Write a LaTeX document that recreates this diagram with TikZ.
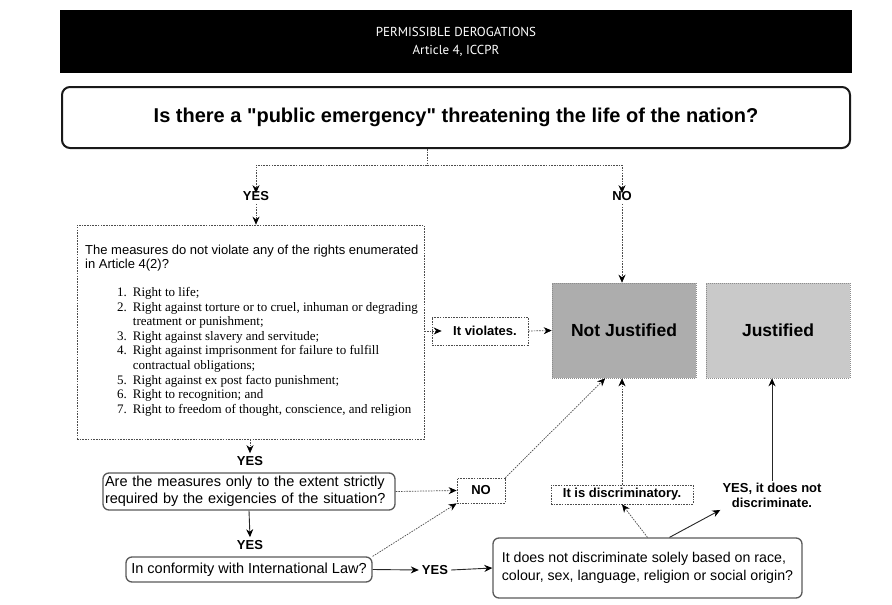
\documentclass[tikz,border=0pt]{standalone}
\usepackage{fontspec}
\setmainfont{Liberation Sans}[Ligatures=TeXOff]
\newfontfamily\serifl{Liberation Serif}
\newfontfamily\bannerfont{PT Sans}
\usetikzlibrary{arrows.meta,calc}
\tikzset{
  arrowtip/.style={-{Stealth[length=8pt,width=7pt,color=black]}},
  dline/.style={arrowtip, line width=0.7pt, draw=black!70, dash pattern=on 1.6pt off 1.1pt},
  sline/.style={arrowtip, line width=0.9pt, draw=black!85},
  dbox/.style={draw=black!70, line width=0.7pt, dash pattern=on 1.6pt off 1.1pt},
  rbox/.style={draw=black!65, line width=1.3pt, rounded corners=6pt, align=left, inner ysep=0pt,
    font=\fontsize{14.5}{17}\selectfont},
  lab/.style={font=\bfseries\fontsize{13}{15}\selectfont, inner sep=3pt, align=center},
  verdict/.style={draw=black!45, dash pattern=on 1pt off 1pt, line width=0.6pt,
    minimum width=144pt, minimum height=95pt, inner sep=0pt, font=\bfseries\fontsize{17.5}{20}\selectfont}
}
\begin{document}
\begin{tikzpicture}[x=1pt,y=-1pt]
\useasboundingbox (0,0) rectangle (892,605);
% banner
\node[fill=black, text=white, minimum width=792pt, minimum height=63pt, inner sep=0pt,
  align=center, font=\bannerfont\fontsize{13}{18}\selectfont] (banner) at (456,41.5)
  {PERMISSIBLE DEROGATIONS\\Article 4, ICCPR};
% main question
\node[draw=black!90, line width=2pt, rounded corners=8pt, minimum width=788pt, minimum height=61pt,
  inner sep=0pt, font=\bfseries\fontsize{20}{23}\selectfont] (q1) at (456,117.5)
  {Is there a "public emergency" threatening the life of the nation?};
\coordinate (stem) at (427,165);
\node[lab] (yes1) at (256,196) {YES};
\node[lab] (no1) at (622,196) {NO};
\draw[line width=0.7pt, draw=black!70, dash pattern=on 1.6pt off 1.1pt] (stem |- q1.south) -- (stem);
\draw[dline] (stem) -| ([yshift=-5pt]yes1.north);
\draw[dline] (stem) -| ([yshift=-5pt]no1.north);
% dashed rights box
\node[dbox, minimum width=347pt, minimum height=214pt, inner sep=0pt] (dbox) at (250.5,332) {};
\node[anchor=north west, inner sep=0pt, align=left, font=\fontsize{13}{14.6}\selectfont] (dhead) at (85,244.5)
  {The measures do not violate any of the rights enumerated\\in Article 4(2)?};
\node[anchor=north west, inner sep=0pt, font=\serifl\fontsize{13}{14.6}\selectfont] (dlist) at (85,286) {%
  \begin{tabular}{@{\hspace{32pt}}r@{\hspace{6pt}}l@{}}
  1. & Right to life;\\
  2. & Right against torture or to cruel, inhuman or degrading\\
     & treatment or punishment;\\
  3. & Right against slavery and servitude;\\
  4. & Right against imprisonment for failure to fulfill\\
     & contractual obligations;\\
  5. & Right against ex post facto punishment;\\
  6. & Right to recognition; and\\
  7. & Right to freedom of thought, conscience, and religion
  \end{tabular}};
\draw[dline] (yes1.south) -- (yes1.south |- dbox.north);
% it violates
\node[dbox, minimum width=96pt, minimum height=28pt, inner sep=0pt, font=\bfseries\fontsize{13}{15}\selectfont]
  (viol) at (480,331) {\hspace{10pt}It violates.};
% verdicts
\node[verdict, fill=black!32] (nj) at (624,330.5) {Not Justified};
\node[verdict, fill=black!21] (just) at (778,330.5) {Justified};
\draw[dline] (dbox.east |- viol) -- ([xshift=10pt]viol.west);
\draw[dline] (viol.east) -- (nj.west);
\draw[dline] (no1.south) -- (no1.south |- nj.north);
% lower chain
\node[lab] (yes2) at (250,461) {YES};
\draw[dline] (yes2.north |- dbox.south) -- (yes2.north);
\node[rbox, text width=288pt, inner xsep=2pt, minimum height=37pt] (q2) at (249,491.5)
  {Are the measures only to the extent strictly\\required by the exigencies of the situation?};
\node[lab] (yes3) at (250,545) {YES};
\draw[sline] (q2.south) -- (yes3.north);
\node[rbox, minimum width=246pt, minimum height=25pt, inner xsep=2pt] (q3) at (249,569.5)
  {In conformity with International Law?};
\node[dbox, minimum width=48pt, minimum height=25pt, inner sep=0pt, font=\bfseries\fontsize{13}{15}\selectfont]
  (no2) at (481,490.5) {NO};
\draw[dline] (q2.east) -- (no2.west);
\draw[dline] (q3.north east) -- (no2.south west);
\draw[dline] (no2.north east) -- ($(nj.south west)!0.37!(nj.south east)$);
\node[lab] (yes4) at (435,570) {YES};
\node[rbox, minimum width=309pt, minimum height=60pt, inner xsep=2pt, font=\fontsize{14.2}{18}\selectfont] (q4) at (647.5,568)
  {It does not discriminate solely based on race,\\colour, sex, language, religion or social origin?};
\draw[sline] (q3.east) -- (yes4.west);
\draw[sline] (yes4.east) -- (q4.west);
\node[dbox, minimum width=142pt, minimum height=19pt, inner sep=0pt, font=\bfseries\fontsize{13}{15}\selectfont]
  (disc) at (622,494.5) {It is discriminatory.};
\node[lab, inner sep=2pt] (ynd) at (772,495.5) {YES, it does not\\discriminate.};
\draw[dline] (q4.north) -- (disc.south);
\draw[dline] (disc.north) -- (disc.north |- nj.south);
\draw[sline] ([xshift=22pt]q4.north) -- (ynd.south west);
\draw[sline] (ynd.north) -- (ynd.north |- just.south);
\end{tikzpicture}
\end{document}
